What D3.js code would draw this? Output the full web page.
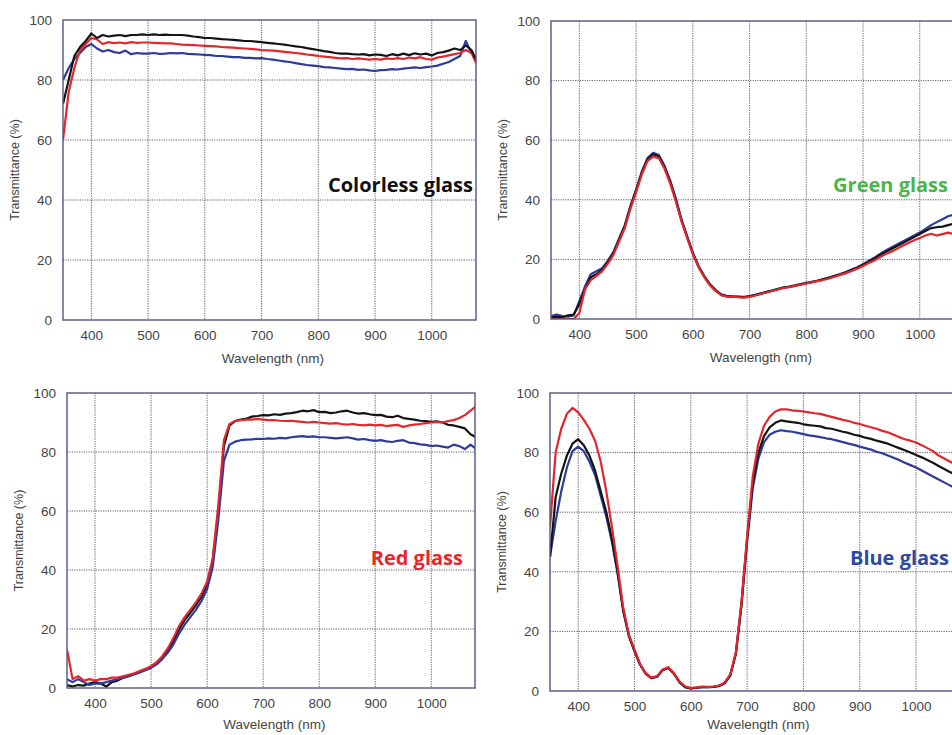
<!DOCTYPE html>
<html lang="en">
<head>
    <meta charset="UTF-8">
    <title>glass-transmittance</title>
    <script src="https://cdn.jsdelivr.net/npm/d3@7"></script>
    <style>
        body {
            margin: 0;
            background: #fff;
        }
        .grid line {
            stroke: #4a4a5a;
            stroke-width: 0.9;
            stroke-dasharray: 1.2, 1.2;
        }
        .tick text {
            font-family: "Liberation Sans", Arial, sans-serif;
            font-size: 13.5px;
            fill: #444;
        }
        .axis-title {
            font-family: "Liberation Sans", Arial, sans-serif;
            fill: #444;
        }
        .glass-label {
            font-family: "Open Sans", "Noto Sans", sans-serif;
            font-weight: bold;
            font-size: 20px;
        }
    </style>
</head>
<body>
<svg class="graph"></svg>
</body>
<script>
    var width = 952;
    var height = 735;

    // wavelength (nm), shared by every sample
    var wavelength = [
        350, 360, 370, 380, 390, 400, 410, 420, 430, 440,
        450, 460, 470, 480, 490, 500, 510, 520, 530, 540,
        550, 560, 570, 580, 590, 600, 610, 620, 630, 640,
        650, 660, 670, 680, 690, 700, 710, 720, 730, 740,
        750, 760, 770, 780, 790, 800, 810, 820, 830, 840,
        850, 860, 870, 880, 890, 900, 910, 920, 930, 940,
        950, 960, 970, 980, 990, 1000, 1010, 1020, 1030, 1040,
        1050, 1060, 1070, 1080
    ];
    var xTicks = [400, 500, 600, 700, 800, 900, 1000];
    var yTicks = [0, 20, 40, 60, 80, 100];

    // colorless glass
    var colorlessBlack = [
        72, 80, 88, 91, 93, 95.5, 94, 95, 94.5, 94.8,
        95, 94.6, 95, 95, 95.2, 95, 95.2, 95, 95.1, 95,
        95, 95, 94.8, 94.5, 94.3, 94, 94, 93.8, 93.6, 93.5,
        93.4, 93.2, 93, 93, 92.8, 92.6, 92.4, 92.2, 92, 91.8,
        91.5, 91.2, 91, 90.6, 90.3, 90, 89.6, 89.4, 89, 88.8,
        88.8, 88.6, 88.5, 88.6, 88.2, 88.5, 88.4, 88, 88.6, 88.2,
        88.8, 88.3, 88.9, 88.5, 88.8, 88.2, 89, 89.3, 89.8, 90.5,
        90, 91.5, 90, 86
    ];
    var colorlessRed = [
        60, 76, 84, 90, 92, 94, 93.5, 92, 92.6, 92.3,
        92.5, 92.2, 92.6, 92.4, 92.5, 92.5, 92.4, 92.3, 92.2, 92.2,
        92, 91.8, 91.7, 91.6, 91.5, 91.4, 91.3, 91.2, 91, 90.9,
        90.8, 90.6, 90.5, 90.4, 90.2, 90, 89.9, 89.8, 89.6, 89.4,
        89.2, 89, 88.8, 88.5, 88.3, 88, 87.8, 87.6, 87.4, 87.2,
        87.3, 87, 87.2, 87, 86.8, 87, 86.8, 87.2, 87, 87.3,
        87, 87.5, 87.2, 87.6, 87, 86.8, 87.5, 87.8, 88.2, 88.6,
        89, 90, 89, 85
    ];
    var colorlessBlue = [
        80, 84, 87, 89, 91, 92, 90.5, 89.5, 90, 89.3,
        89, 89.8, 88.6, 89, 88.8, 88.8, 89, 88.7, 88.8, 89,
        88.9, 89, 88.7, 88.6, 88.5, 88.4, 88.3, 88, 88, 87.8,
        87.6, 87.6, 87.4, 87.4, 87.2, 87.3, 87, 86.8, 86.5, 86.2,
        86, 85.6, 85.3, 85, 84.8, 84.6, 84.3, 84.2, 84, 83.8,
        83.6, 83.7, 83.4, 83.5, 83.2, 83, 83.3, 83.4, 83.6, 83.5,
        83.8, 84, 84.2, 84, 84.3, 84.5, 84.8, 85.4, 86, 87,
        88, 93, 89, 87
    ];

    // green glass
    var greenBlack = [
        0.5, 0.8, 0.6, 1.2, 1.5, 5, 10, 14, 15, 16.5,
        19, 22, 26.5, 31, 37.5, 43, 49, 53.5, 55.3, 54.5,
        51, 46, 40, 33, 27.5, 22, 17.6, 14.3, 11.5, 9.6,
        8.1, 7.6, 7.5, 7.4, 7.3, 7.6, 8, 8.5, 9, 9.5,
        10, 10.5, 10.8, 11.2, 11.6, 12, 12.4, 12.8, 13.3, 13.8,
        14.4, 15, 15.7, 16.4, 17.2, 18.2, 19.2, 20.3, 21.4, 22.5,
        23.5, 24.5, 25.5, 26.5, 27.5, 28.5, 29.5, 30.5, 30.8, 31,
        31.5, 32, 31, 30
    ];
    var greenRed = [
        0, 0, 0, 0, 0, 2, 10, 13, 14.5, 16,
        18.5, 21.5, 26, 30.5, 37, 42.5, 48.5, 53, 54.5, 54,
        50.5, 45.5, 39.5, 32.8, 27.2, 21.8, 17.4, 14.1, 11.3, 9.4,
        8, 7.5, 7.4, 7.3, 7.2, 7.4, 7.9, 8.4, 8.9, 9.4,
        9.9, 10.4, 10.7, 11.1, 11.5, 11.9, 12.3, 12.7, 13.1, 13.6,
        14.2, 14.8, 15.4, 16.1, 16.9, 17.8, 18.8, 19.6, 20.8, 21.8,
        22.6, 23.6, 24.6, 25.5, 26.4, 27.2, 28, 28.6, 28, 28.5,
        29, 28.5, 29, 28
    ];
    var greenBlue = [
        1, 1.5, 1, 0.8, 1.2, 6, 11, 15, 16, 17,
        19.5, 22.5, 27, 31.5, 38, 43.5, 49.5, 54, 55.8, 55,
        51.5, 46.5, 40.5, 33.4, 27.8, 22.3, 17.8, 14.5, 11.7, 9.8,
        8.3, 7.8, 7.6, 7.5, 7.4, 7.7, 8.1, 8.6, 9.1, 9.6,
        10.1, 10.6, 10.9, 11.3, 11.7, 12.1, 12.5, 12.9, 13.4, 13.9,
        14.5, 15.1, 15.8, 16.6, 17.4, 18.4, 19.5, 20.6, 21.8, 23,
        24, 25, 26, 27, 28, 29, 30.2, 31.5, 32.5, 33.5,
        34.5, 35, 33, 32
    ];

    // red glass
    var redBlack = [
        1, 0.5, 1, 0.8, 1.5, 2, 1.5, 0.5, 2, 2.5,
        3.5, 4, 4.8, 5.5, 6.3, 7.2, 8.5, 10.2, 12.8, 16,
        20, 23, 25.5, 28, 31, 35, 43, 60, 82, 89,
        90.5, 91, 91.3, 92, 92.2, 92.5, 92.4, 92.8, 92.6, 93,
        93.2, 93.5, 94, 93.8, 94.2, 93.5, 93.6, 93.2, 93.4, 93.8,
        94, 93.4, 93, 93.2, 92.8, 92.5, 92.6, 92, 91.8, 92.3,
        91.5, 91.2, 91, 90.6, 90.5, 90.2, 90.4, 90, 89.2, 89,
        88.5, 88, 86, 85
    ];
    var redRed = [
        13, 3, 4, 2.5, 3, 2.5, 3, 3, 3.5, 3.5,
        4, 4.5, 5, 5.8, 6.5, 7.4, 8.8, 10.8, 13.5, 17,
        21, 24, 26.5, 29, 32, 36, 44, 62, 84, 89.5,
        90.5, 90.8, 91, 91, 91.2, 91, 90.8, 90.8, 90.6, 90.5,
        90.6, 90.4, 90.2, 90, 90.2, 90, 89.8, 89.6, 89.8, 89.5,
        89.3, 89.5, 89.2, 89, 89.3, 89, 89.2, 88.8, 89, 89.2,
        88.5, 89, 89.3, 89.5, 89.8, 90, 90.2, 90, 90.5, 90.8,
        91.5, 92.5, 94, 95.5
    ];
    var redBlue = [
        3, 2, 3, 2, 1, 1.5, 1.5, 2, 2.5, 3,
        3.5, 4, 4.6, 5.3, 6, 6.8, 8, 9.8, 12, 14.8,
        18.5, 21.5, 24, 26.5, 29.5, 33.5, 41, 57, 77, 82.5,
        83.5, 84, 84.2, 84.3, 84.5, 84.4, 84.6, 84.5, 84.8, 84.6,
        85, 85.2, 85.4, 85.1, 85.3, 85, 85, 84.8, 84.6, 84.8,
        85, 84.6, 84.2, 84.4, 84, 83.8, 84, 83.6, 83.4, 83.8,
        84, 83.2, 83, 82.6, 82.4, 82, 82.2, 81.8, 81.5, 82.5,
        82, 81, 82.5, 81
    ];

    // blue glass
    var blueBlack = [
        45, 65, 73, 79, 83, 84.5, 82.5, 79, 74, 67,
        60, 51, 40, 27, 18.5, 13.5, 8.8, 5.8, 4.3, 4.8,
        7, 7.8, 5.8, 3, 1.3, 0.9, 1.1, 1.3, 1.3, 1.4,
        1.7, 2.6, 5.2, 12.5, 29, 51, 70, 80, 85.5, 88.5,
        90, 90.8, 90.5, 90.2, 90, 89.5, 89.2, 89, 88.8, 88.2,
        88, 87.5, 87, 86.6, 86, 85.6, 85, 84.6, 84, 83.5,
        83, 82.2, 81.5, 80.8, 80, 79.2, 78.4, 77.5, 76.6, 75.5,
        74.5, 73.5, 72.5, 71.5
    ];
    var blueRed = [
        55, 80, 88, 93, 95, 93.5, 91, 88, 84, 77,
        67, 55, 42, 28, 19, 14, 9, 6, 4.5, 5,
        7.2, 8, 6, 3.2, 1.5, 1, 1.2, 1.5, 1.4, 1.5,
        1.8, 2.8, 5.5, 13, 30, 52, 72, 83, 89, 92,
        93.8, 94.5, 94.5, 94.2, 94, 93.8, 93.5, 93.2, 93, 92.5,
        92, 91.5, 91, 90.6, 90, 89.6, 89, 88.5, 88, 87.3,
        86.8, 86, 85.2, 84.5, 84, 83.4, 82.5, 81.5, 80.5, 79,
        78, 77, 76, 75
    ];
    var blueBlue = [
        45, 57, 67, 75, 80.5, 82, 80.5, 77, 72.5, 65.5,
        58.5, 50, 39.5, 27, 18.5, 13.5, 8.8, 5.8, 4.3, 4.8,
        7, 7.8, 5.8, 3, 1.3, 0.9, 1.1, 1.3, 1.3, 1.4,
        1.7, 2.6, 5.2, 12.5, 29, 50, 68, 78, 83.5, 86,
        87, 87.5, 87.2, 87, 86.6, 86.2, 85.8, 85.5, 85.2, 84.8,
        84.5, 84, 83.5, 83, 82.6, 82, 81.5, 81, 80.3, 79.8,
        79, 78.3, 77.5, 76.6, 75.8, 75, 74, 73, 72, 71,
        70, 69, 68, 67
    ];

    var lineColors = {black: '#141414', red: '#e3262b', blue: '#2c3b9c'};

    // panel boxes (pixels)
    var panels = [
        {label: 'Colorless glass', color: '#111', left: 63, top: 20, right: 476, bottom: 320, titleGap: 43,
            labelX: 473, labelY: 192, series: {blue: colorlessBlue, red: colorlessRed, black: colorlessBlack}},
        {label: 'Green glass', color: '#4bb648', left: 551, top: 21, right: 964, bottom: 319, titleGap: 43,
            labelX: 948, labelY: 192, series: {blue: greenBlue, black: greenBlack, red: greenRed}},
        {label: 'Red glass', color: '#e8262b', left: 67, top: 393, right: 475, bottom: 688, titleGap: 41,
            labelX: 463, labelY: 565, series: {black: redBlack, blue: redBlue, red: redRed}},
        {label: 'Blue glass', color: '#2e4a9e', left: 550, top: 393, right: 960, bottom: 691, titleGap: 38,
            labelX: 949, labelY: 565, series: {blue: blueBlue, black: blueBlack, red: blueRed}}
    ];

    var svg = d3.select('.graph')
        .attr('width', width)
        .attr('height', height);

    panels.forEach(function (p, i) {
        var w = p.right - p.left;
        var h = p.bottom - p.top;

        var x = d3.scaleLinear().domain([350, 1078]).range([0, w]);
        var y = d3.scaleLinear().domain([0, 100]).range([h, 0]);

        var g = svg.append('g')
            .attr('transform', 'translate(' + p.left + ',' + p.top + ')');

        var clipId = 'clip' + i;
        g.append('clipPath').attr('id', clipId)
            .append('rect').attr('width', w).attr('height', h);

        // grid
        g.append('g').attr('class', 'grid')
            .selectAll('line.v').data(xTicks).enter()
            .append('line')
            .attr('x1', function (d) { return x(d); })
            .attr('x2', function (d) { return x(d); })
            .attr('y1', 0).attr('y2', h);
        g.append('g').attr('class', 'grid')
            .selectAll('line.h').data(yTicks.slice(1, -1)).enter()
            .append('line')
            .attr('x1', 0).attr('x2', w)
            .attr('y1', function (d) { return y(d); })
            .attr('y2', function (d) { return y(d); });

        // axes (labels only)
        g.append('g')
            .attr('transform', 'translate(0,' + h + ')')
            .call(d3.axisBottom(x).tickValues(xTicks).tickFormat(d3.format('d')).tickSize(0).tickPadding(10))
            .call(function (a) { a.select('.domain').remove(); });
        g.append('g')
            .call(d3.axisLeft(y).tickValues(yTicks).tickSize(0).tickPadding(11))
            .call(function (a) { a.select('.domain').remove(); });

        // spectra
        var line = d3.line()
            .x(function (d, k) { return x(wavelength[k]); })
            .y(function (d) { return y(d); });

        var plot = g.append('g').attr('clip-path', 'url(#' + clipId + ')');
        Object.keys(p.series).forEach(function (key) {
            plot.append('path')
                .datum(p.series[key])
                .attr('fill', 'none')
                .attr('stroke', lineColors[key])
                .attr('stroke-width', 2.2)
                .attr('stroke-linejoin', 'round')
                .attr('d', line);
        });

        // frame
        g.append('rect')
            .attr('width', w).attr('height', h)
            .attr('fill', 'none')
            .attr('stroke', '#54557f')
            .attr('stroke-width', 1.4);

        // axis titles
        g.append('text')
            .attr('class', 'axis-title')
            .attr('text-anchor', 'middle')
            .attr('font-size', '13.5px')
            .attr('x', x(720))
            .attr('y', h + p.titleGap)
            .text('Wavelength (nm)');
        g.append('text')
            .attr('class', 'axis-title')
            .attr('text-anchor', 'middle')
            .attr('font-size', '12.5px')
            .attr('transform', 'translate(' + (-44) + ',' + (h / 2) + ') rotate(-90)')
            .text('Transmittance (%)');

        // sample label
        svg.append('text')
            .attr('class', 'glass-label')
            .attr('text-anchor', 'end')
            .attr('x', p.labelX)
            .attr('y', p.labelY)
            .attr('fill', p.color)
            .text(p.label);
    });
</script>
</html>
